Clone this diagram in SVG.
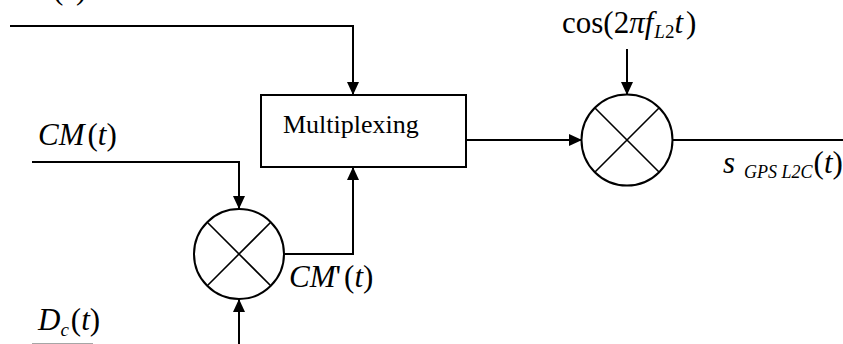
<svg xmlns="http://www.w3.org/2000/svg" width="843" height="344" viewBox="0 0 843 344">
<style>
.ln{fill:none;stroke:#000;stroke-width:2}
.sh{fill:#fff;stroke:#000;stroke-width:2}
.x{stroke:#000;stroke-width:1.6}
text{font-family:"Liberation Serif","Times New Roman",serif;fill:#000}
.i{font-style:italic}
</style>
<defs>
<marker id="ah" viewBox="0 0 13 12" refX="13" refY="6" markerWidth="13" markerHeight="12" orient="auto" markerUnits="userSpaceOnUse"><path d="M0,0 L13,6 L0,12 z" fill="#000"/></marker>
</defs>
<g id="connectors">
<path class="ln" d="M10,26 H353 V95" marker-end="url(#ah)"/>
<path class="ln" d="M32,162 H239 V209" marker-end="url(#ah)"/>
<path class="ln" d="M239,344 V299" marker-end="url(#ah)"/>
<path class="ln" d="M285,254 H353 V167" marker-end="url(#ah)"/>
<path class="ln" d="M466,140 H582" marker-end="url(#ah)"/>
<path class="ln" d="M627,49 V95" marker-end="url(#ah)"/>
<path class="ln" d="M673,140 H843"/>
<path d="M32,344 H93" stroke="#888" stroke-width="1.5"/>
</g>
<g id="mux">
<rect class="sh" x="261" y="95" width="205" height="72"/>
<text x="283" y="133" font-size="26">Multiplexing</text>
</g>
<g id="mult1">
<circle class="sh" cx="239" cy="254" r="45"/>
<path class="x" d="M207,222 L271,286 M271,222 L207,286"/>
</g>
<g id="mult2">
<circle class="sh" cx="627" cy="140" r="45.5"/>
<path class="x" d="M595,108 L659,172 M659,108 L595,172"/>
</g>
<g id="labels">
<text x="53" y="-1" font-size="31">(<tspan class="i" dx="2">t</tspan><tspan dx="2">)</tspan></text>
<text x="38" y="145" font-size="31"><tspan class="i">CM</tspan><tspan dx="3">(</tspan><tspan class="i">t</tspan>)</text>
<text x="289" y="287" font-size="31"><tspan class="i">CM</tspan>'<tspan dx="3">(</tspan><tspan class="i">t</tspan>)</text>
<text x="38" y="330" font-size="31"><tspan class="i">D</tspan><tspan class="i" font-size="19" dy="6">c</tspan><tspan dy="-6" dx="2">(</tspan><tspan class="i">t</tspan>)</text>
<text x="562" y="33" font-size="31">cos(2<tspan class="i">πf</tspan><tspan class="i" font-size="19" dy="5" dx="1">L</tspan><tspan font-size="19">2</tspan><tspan class="i" dy="-5">t</tspan><tspan dx="3">)</tspan></text>
<text x="723" y="173" font-size="31"><tspan class="i">s</tspan><tspan class="i" font-size="18" dy="5" dx="9">GPS L2C</tspan><tspan dy="-5" dx="1">(</tspan><tspan class="i">t</tspan>)</text>
</g>
</svg>
